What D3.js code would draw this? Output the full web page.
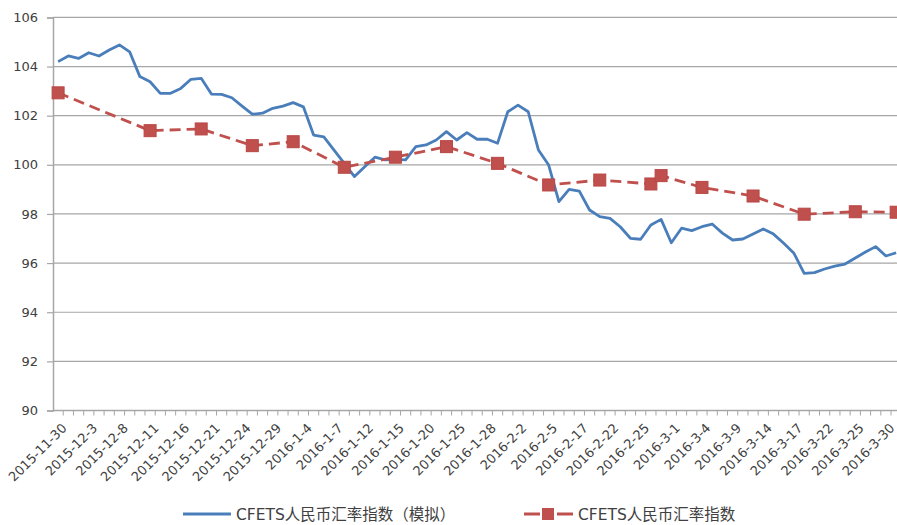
<!DOCTYPE html>
<html>
<head>
<meta charset="utf-8">
<script src="https://cdn.jsdelivr.net/npm/d3@7/dist/d3.min.js"></script>
<style>
  html, body { margin: 0; padding: 0; background: #fff; }
  svg { display: block; }
</style>
</head>
<body>
<svg id="chart" width="897" height="525"></svg>
<script>
// Trading days, 2015-11-30 .. 2016-03-31
const categories = [
  "2015-11-30","2015-12-1","2015-12-2","2015-12-3","2015-12-4","2015-12-7","2015-12-8","2015-12-9","2015-12-10","2015-12-11",
  "2015-12-14","2015-12-15","2015-12-16","2015-12-17","2015-12-18","2015-12-21","2015-12-22","2015-12-23","2015-12-24","2015-12-25",
  "2015-12-28","2015-12-29","2015-12-30","2015-12-31","2016-1-4","2016-1-5","2016-1-6","2016-1-7","2016-1-8","2016-1-11",
  "2016-1-12","2016-1-13","2016-1-14","2016-1-15","2016-1-18","2016-1-19","2016-1-20","2016-1-21","2016-1-22","2016-1-25",
  "2016-1-26","2016-1-27","2016-1-28","2016-1-29","2016-2-1","2016-2-2","2016-2-3","2016-2-4","2016-2-5","2016-2-15",
  "2016-2-16","2016-2-17","2016-2-18","2016-2-19","2016-2-22","2016-2-23","2016-2-24","2016-2-25","2016-2-26","2016-2-29",
  "2016-3-1","2016-3-2","2016-3-3","2016-3-4","2016-3-7","2016-3-8","2016-3-9","2016-3-10","2016-3-11","2016-3-14",
  "2016-3-15","2016-3-16","2016-3-17","2016-3-18","2016-3-21","2016-3-22","2016-3-23","2016-3-24","2016-3-25","2016-3-28",
  "2016-3-29","2016-3-30","2016-3-31"
];

// Daily simulated CFETS RMB index
const simValues = [
  104.20,104.43,104.33,104.56,104.43,104.67,104.88,104.60,103.59,103.38,
  102.91,102.91,103.11,103.48,103.52,102.88,102.87,102.73,102.39,102.06,
  102.10,102.30,102.39,102.53,102.36,101.21,101.14,100.60,100.06,99.52,
  99.92,100.31,100.20,100.22,100.20,100.74,100.81,101.01,101.35,101.01,
  101.31,101.04,101.04,100.88,102.16,102.43,102.16,100.60,99.99,98.50,
  99.00,98.93,98.16,97.89,97.82,97.48,97.01,96.97,97.55,97.78,
  96.83,97.42,97.32,97.48,97.59,97.22,96.94,96.98,97.18,97.39,
  97.18,96.81,96.40,95.58,95.61,95.76,95.88,95.96,96.21,96.45,
  96.67,96.29,96.42
];

// Published CFETS RMB index (weekly / month-end)
const idxDates = [
  "2015-11-30","2015-12-11","2015-12-18","2015-12-25","2015-12-31","2016-1-8","2016-1-15","2016-1-22","2016-1-29",
  "2016-2-5","2016-2-19","2016-2-26","2016-2-29","2016-3-4","2016-3-11","2016-3-18","2016-3-25","2016-3-31"
];
const idxValues = [
  102.93,101.39,101.46,100.78,100.94,99.90,100.31,100.74,100.06,
  99.18,99.38,99.22,99.56,99.08,98.73,97.99,98.09,98.07
];

const yTicks = [90, 92, 94, 96, 98, 100, 102, 104, 106];
const seriesNames = ["CFETS人民币汇率指数（模拟）", "CFETS人民币汇率指数"];

const W = 897, H = 525;
const plotLeft = 53, plotTop = 17.4, plotBottom = 410.5;
const band = 10.22;

const svg = d3.select("#chart");

const x = d3.scaleBand()
  .domain(categories)
  .range([plotLeft, plotLeft + band * categories.length])
  .padding(0);
const cx = d => x(d) + x.bandwidth() / 2;

const y = d3.scaleLinear().domain([90, 106]).range([plotBottom, plotTop]);

const gridColor = "#a6a6a6";
const textColor = "#404040";
const numFont = "'DejaVu Sans', sans-serif";

// Horizontal gridlines
svg.append("g")
  .selectAll("line")
  .data(yTicks.filter(v => v !== 90))
  .join("line")
  .attr("x1", plotLeft).attr("x2", W)
  .attr("y1", d => y(d)).attr("y2", d => y(d))
  .attr("stroke", gridColor).attr("stroke-width", 1.2);

// Y axis
const yAxis = svg.append("g")
  .attr("transform", `translate(${plotLeft},0)`)
  .call(d3.axisLeft(y).tickValues(yTicks).tickSize(6).tickPadding(9).tickFormat(d3.format("d")));
yAxis.select(".domain").attr("stroke", gridColor).attr("stroke-width", 1.5);
yAxis.selectAll(".tick line").attr("stroke", gridColor).attr("stroke-width", 1.2);
yAxis.selectAll(".tick text")
  .attr("fill", textColor)
  .style("font-family", numFont)
  .style("font-size", "13px");

// X axis (category axis with a tick at each band edge)
const xg = svg.append("g");
xg.append("line")
  .attr("x1", plotLeft).attr("x2", W)
  .attr("y1", plotBottom).attr("y2", plotBottom)
  .attr("stroke", gridColor).attr("stroke-width", 1.5);
xg.selectAll("line.tk")
  .data(categories)
  .join("line")
  .attr("class", "tk")
  .attr("x1", d => x(d) + x.bandwidth()).attr("x2", d => x(d) + x.bandwidth())
  .attr("y1", plotBottom).attr("y2", plotBottom + 5)
  .attr("stroke", gridColor).attr("stroke-width", 1);

const labelCats = categories.filter((d, i) => i % 3 === 0);
xg.selectAll("text")
  .data(labelCats)
  .join("text")
  .attr("transform", d => `translate(${cx(d) + 3},${plotBottom + 12}) rotate(-45)`)
  .attr("text-anchor", "end")
  .attr("dy", "0.7em")
  .attr("fill", textColor)
  .style("font-family", numFont)
  .style("font-size", "13px")
  .text(d => d);

// Simulated index: solid blue line
const blue = "#4a7ebb";
const red = "#c0504d";

svg.append("path")
  .datum(categories.map((c, i) => [c, simValues[i]]))
  .attr("fill", "none")
  .attr("stroke", blue)
  .attr("stroke-width", 2.8)
  .attr("stroke-linejoin", "round")
  .attr("d", d3.line().x(d => cx(d[0])).y(d => y(d[1])));

// Published index: dashed red line with square markers
const idxData = idxDates.map((c, i) => [c, idxValues[i]]);
svg.append("path")
  .datum(idxData)
  .attr("fill", "none")
  .attr("stroke", red)
  .attr("stroke-width", 2.8)
  .attr("stroke-dasharray", "11,6")
  .attr("d", d3.line().x(d => cx(d[0])).y(d => y(d[1])));

const ms = 12;
svg.append("g")
  .selectAll("rect")
  .data(idxData)
  .join("rect")
  .attr("x", d => cx(d[0]) - ms / 2)
  .attr("y", d => y(d[1]) - ms / 2)
  .attr("width", ms).attr("height", ms)
  .attr("fill", red)
  .attr("stroke", "#b84744").attr("stroke-width", 1);

// Legend
const legendY = 514;
const lg = svg.append("g")
  .style("font-family", "'DejaVu Sans', 'Noto Sans CJK SC', sans-serif")
  .style("font-size", "15.5px")
  .attr("fill", textColor);

lg.append("line")
  .attr("x1", 183).attr("x2", 231)
  .attr("y1", legendY).attr("y2", legendY)
  .attr("stroke", blue).attr("stroke-width", 3);
lg.append("text")
  .attr("x", 236).attr("y", legendY)
  .attr("dy", "0.36em")
  .text(seriesNames[0]);

lg.append("line")
  .attr("x1", 524).attr("x2", 573)
  .attr("y1", legendY).attr("y2", legendY)
  .attr("stroke", red).attr("stroke-width", 3)
  .attr("stroke-dasharray", "16,17");
lg.append("rect")
  .attr("x", 548 - ms / 2).attr("y", legendY - ms / 2)
  .attr("width", ms).attr("height", ms)
  .attr("fill", red);
lg.append("text")
  .attr("x", 578).attr("y", legendY)
  .attr("dy", "0.36em")
  .text(seriesNames[1]);
</script>
</body>
</html>
